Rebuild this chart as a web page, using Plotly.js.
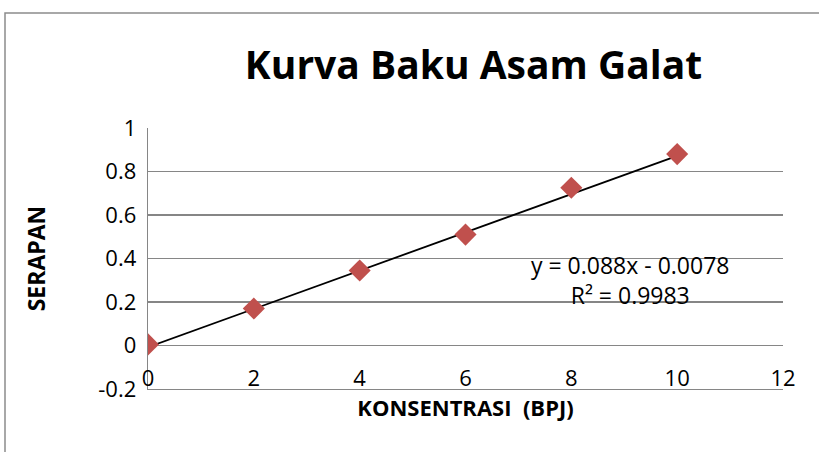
<!DOCTYPE html>
<html>
<head>
<meta charset="utf-8">
<script src="https://cdn.plot.ly/plotly-3.0.1.min.js"></script>
<style>
html,body{margin:0;padding:0;background:#fff;}
#chart{width:819px;height:452px;}
</style>
</head>
<body>
<div id="chart"></div>
<script>
// Data
const konsentrasi = [0, 2, 4, 6, 8, 10];
const serapan = [0.005, 0.17, 0.345, 0.51, 0.725, 0.88];
const trendSlope = 0.088;
const trendIntercept = -0.0078;
const rSquared = 0.9983;
const xTicks = [0, 2, 4, 6, 8, 10, 12];
const yTicks = [-0.2, 0, 0.2, 0.4, 0.6, 0.8, 1];
const yTickLabels = ['-0.2', '0', '0.2', '0.4', '0.6', '0.8', '1'];

const xMin = Math.min(...konsentrasi), xMax = Math.max(...konsentrasi);
const trendX = [xMin, xMax];
const trendY = trendX.map(x => trendSlope * x + trendIntercept);

const FONT = 'Open Sans, Calibri, sans-serif';
const GRID = '#868686';

const L = 148, R = 783, T = 128, B = 389, W = 819, H = 452;
const px = v => (v - L) / (R - L);
const py = v => (B - v) / (B - T);

const traces = [
  {
    x: trendX, y: trendY, mode: 'lines', type: 'scatter',
    line: {color: '#000000', width: 1.8},
    hoverinfo: 'skip', showlegend: false
  },
  {
    x: konsentrasi, y: serapan, mode: 'markers', type: 'scatter',
    marker: {symbol: 'diamond', size: 17, color: '#C0504D', line: {width: 0}},
    showlegend: false
  }
];

const layout = {
  width: W, height: H,
  margin: {l: L, r: W - R, t: T, b: H - B, pad: 0},
  paper_bgcolor: '#ffffff', plot_bgcolor: '#ffffff',
  showlegend: false,
  title: {
    text: '<b>Kurva Baku Asam Galat</b>',
    font: {family: FONT, size: 39, color: '#000000'},
    x: 473.5 / W, xanchor: 'center',
    y: 1 - 65 / H, yanchor: 'middle'
  },
  xaxis: {
    range: [0, 12], tickvals: xTicks, ticktext: xTicks.map(String),
    showgrid: false, zeroline: false,
    showline: true, linecolor: GRID, linewidth: 1.3,
    ticks: '', ticklabelposition: 'inside', ticklabeloverflow: 'allow',
    tickfont: {family: FONT, size: 22, color: '#000000'},
    title: {text: '<b>KONSENTRASI  (BPJ)</b>', font: {family: FONT, size: 22, color: '#000000'}, standoff: 8},
    fixedrange: true
  },
  yaxis: {
    range: [-0.2, 1], tickvals: yTicks, ticktext: yTickLabels,
    showgrid: true, gridcolor: GRID, gridwidth: 1.3,
    zeroline: false,
    showline: true, linecolor: GRID, linewidth: 1.3,
    ticks: '', ticklabelstandoff: 6,
    tickfont: {family: FONT, size: 22, color: '#000000'},
    title: {text: '<b>SERAPAN</b>', font: {family: FONT, size: 23, color: '#000000'}, standoff: 46},
    fixedrange: true
  },
  annotations: [
    {
      xref: 'paper', yref: 'paper',
      x: px(630), y: py(280), xanchor: 'center', yanchor: 'middle',
      text: 'y = ' + trendSlope + 'x - ' + Math.abs(trendIntercept) + '<br>R² = ' + rSquared,
      showarrow: false, align: 'center',
      font: {family: FONT, size: 23, color: '#000000'}
    }
  ],
  shapes: [
    {
      type: 'rect', xref: 'paper', yref: 'paper',
      x0: px(5), x1: px(840), y0: py(470), y1: py(13),
      line: {color: '#8c8c8c', width: 1.5}, fillcolor: 'rgba(0,0,0,0)', layer: 'below'
    }
  ]
};

Plotly.newPlot('chart', traces, layout, {displayModeBar: false, staticPlot: true});
</script>
</body>
</html>
